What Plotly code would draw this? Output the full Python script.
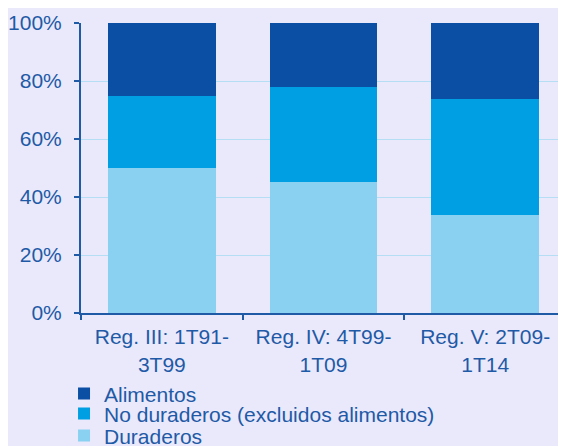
import plotly.graph_objects as go

categories = ["Reg. III: 1T91-<br>3T99", "Reg. IV: 4T99-<br>1T09", "Reg. V: 2T09-<br>1T14"]
duraderos = [50.0, 45.2, 33.8]
no_duraderos = [25.0, 32.7, 40.0]
alimentos = [25.0, 22.1, 26.2]
y_ticks = [0, 20, 40, 60, 80, 100]
y_tick_labels = ["0%", "20%", "40%", "60%", "80%", "100%"]

text_color = "#1F5AA6"
fig = go.Figure()
fig.add_trace(go.Bar(x=categories, y=duraderos, name="Duraderos", marker_color="#8AD1F1",
                     marker_line_width=0, legend="legend3"))
fig.add_trace(go.Bar(x=categories, y=no_duraderos, name="No duraderos (excluidos alimentos)",
                     marker_color="#009FE3", marker_line_width=0, legend="legend2"))
fig.add_trace(go.Bar(x=categories, y=alimentos, name="Alimentos", marker_color="#0A4FA3",
                     marker_line_width=0, legend="legend"))

def leg(y):
    return dict(
        orientation="v",
        x=-0.035, xanchor="left",
        y=y, yanchor="middle",
        bgcolor="rgba(0,0,0,0)",
        font=dict(size=21, color=text_color),
        itemwidth=30,
    )

fig.update_layout(
    barmode="stack",
    bargap=0.333,
    width=566, height=446,
    margin=dict(l=73, r=8, t=15, b=141, autoexpand=False),
    paper_bgcolor="#E9E9FB",
    plot_bgcolor="#E9E9FB",
    font=dict(family="Liberation Sans, Arial", size=21, color=text_color),
    showlegend=True,
    legend=leg(-0.279),
    legend2=leg(-0.348),
    legend3=leg(-0.424),
)
fig.update_xaxes(
    automargin=False,
    showline=True, linecolor=text_color, linewidth=2,
    ticks="outside", tickson="boundaries", ticklen=5, tickwidth=2, tickcolor=text_color,
    ticklabelstandoff=4,
    tickfont=dict(size=21, color=text_color),
    showgrid=False,
)
fig.update_yaxes(
    automargin=False,
    range=[0, 100],
    tickvals=y_ticks, ticktext=y_tick_labels,
    showline=True, linecolor=text_color, linewidth=2,
    ticks="outside", ticklen=5, tickwidth=2, tickcolor=text_color,
    ticklabelstandoff=8,
    tickfont=dict(size=21, color=text_color),
    showgrid=True, gridcolor="#B5DDF3", gridwidth=1,
    zeroline=False,
)
fig.write_html("out.html")
